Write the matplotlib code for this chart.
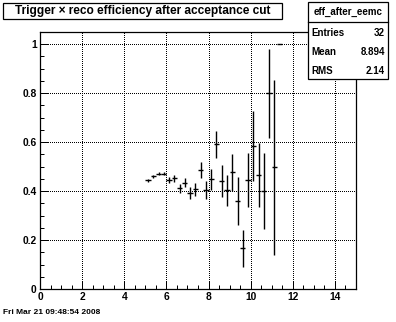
import numpy as np
import matplotlib
matplotlib.use("Agg")
import matplotlib.pyplot as plt
from matplotlib.patches import Rectangle
from matplotlib.ticker import MultipleLocator

plt.rcParams['font.family'] = ['Liberation Sans', 'DejaVu Sans']

# efficiency per 0.25-wide bin, with binomial errors
bin_centers = [5.125, 5.375, 5.625, 5.875, 6.125, 6.375, 6.625, 6.875, 7.125, 7.375,
               7.625, 7.875, 8.125, 8.375, 8.625, 8.875, 9.125, 9.375, 9.625, 9.875,
               10.125, 10.375, 10.625, 10.875, 11.125, 11.375]
efficiency = [0.444, 0.460, 0.471, 0.471, 0.445, 0.453, 0.411, 0.435, 0.392, 0.407,
              0.486, 0.406, 0.448, 0.591, 0.440, 0.403, 0.477, 0.360, 0.166, 0.446,
              0.584, 0.465, 0.401, 0.799, 0.497, 1.0]
eff_error = [0.006, 0.006, 0.006, 0.006, 0.012, 0.014, 0.017, 0.019, 0.024, 0.027,
             0.034, 0.037, 0.044, 0.055, 0.065, 0.064, 0.075, 0.099, 0.076, 0.111,
             0.144, 0.130, 0.155, 0.181, 0.357, 0.0]
bin_width = 0.25

title = "Trigger \u00d7 reco efficiency after acceptance cut"
hist_name = "eff_after_eemc"
stat_labels = ["Entries", "Mean", "RMS"]
stat_values = ["32", "8.894", "2.14"]
timestamp = "Fri Mar 21 09:48:54 2008"

W, H = 396, 322
fig = plt.figure(figsize=(W / 100, H / 100), dpi=100)
fig.patch.set_facecolor('white')


def fx(px):
    return px / W


def fy(py):
    return 1 - py / H


ax = fig.add_axes([fx(40), fy(289), fx(356) - fx(40), fy(32) - fy(289)])
ax.errorbar(bin_centers, efficiency, xerr=bin_width / 2, yerr=eff_error,
            fmt='none', ecolor='black', elinewidth=1.0, capsize=0)

ax.set_xlim(0, 15)
ax.set_ylim(0, 1.05)
ax.xaxis.set_minor_locator(MultipleLocator(0.5))
ax.yaxis.set_minor_locator(MultipleLocator(0.05))
ax.set_yticks([0, 0.2, 0.4, 0.6, 0.8, 1.0])
ax.set_yticklabels(["0", "0.2", "0.4", "0.6", "0.8", "1"])
ax.set_xticks(range(0, 15, 2))
ax.set_xticklabels([str(v) for v in range(0, 15, 2)])

# dotted grid at the major ticks, drawn crisp
ax.grid(True, which='major', color='black', linestyle=(0, (1, 2)), linewidth=0.72,
        antialiased=False)
ax.tick_params(which='both', direction='in', top=False, right=False, width=0.72,
               labelsize=7.4)
ax.tick_params(which='major', length=6.0, pad=2.5)
ax.tick_params(which='minor', length=3.2)
for lab in ax.get_xticklabels() + ax.get_yticklabels():
    lab.set_fontweight('bold')
for sp in ax.spines.values():
    sp.set_linewidth(0.9)

# title box
fig.patches.append(Rectangle((fx(3), fy(19)), fx(282) - fx(3), fy(3) - fy(19),
                             transform=fig.transFigure, facecolor='white',
                             edgecolor='black', linewidth=0.9))
fig.text(fx(142.5), fy(11), title, ha='center', va='center', fontsize=8.6,
         fontweight='bold')

# statistics box
fig.patches.append(Rectangle((fx(308), fy(79)), fx(388) - fx(308), fy(2) - fy(79),
                             transform=fig.transFigure, facecolor='white',
                             edgecolor='black', linewidth=0.9, zorder=5))
fig.add_artist(plt.Line2D([fx(308), fx(388)], [fy(21.5), fy(21.5)],
                          transform=fig.transFigure, color='black', linewidth=0.9,
                          zorder=6))
fig.text(fx(348), fy(12), hist_name, ha='center', va='center', fontsize=7.0,
         fontweight='bold', zorder=7)
for i, (lab, val) in enumerate(zip(stat_labels, stat_values)):
    yy = fy(32.5 + 19.3 * i)
    fig.text(fx(311), yy, lab, ha='left', va='center', fontsize=7.0,
             fontweight='bold', zorder=7)
    fig.text(fx(385), yy, val, ha='right', va='center', fontsize=7.0,
             fontweight='bold', zorder=7)

fig.text(fx(3), fy(312), timestamp, ha='left', va='center', fontsize=6.0,
         fontweight='bold')

fig.savefig("out.png", dpi=100)
